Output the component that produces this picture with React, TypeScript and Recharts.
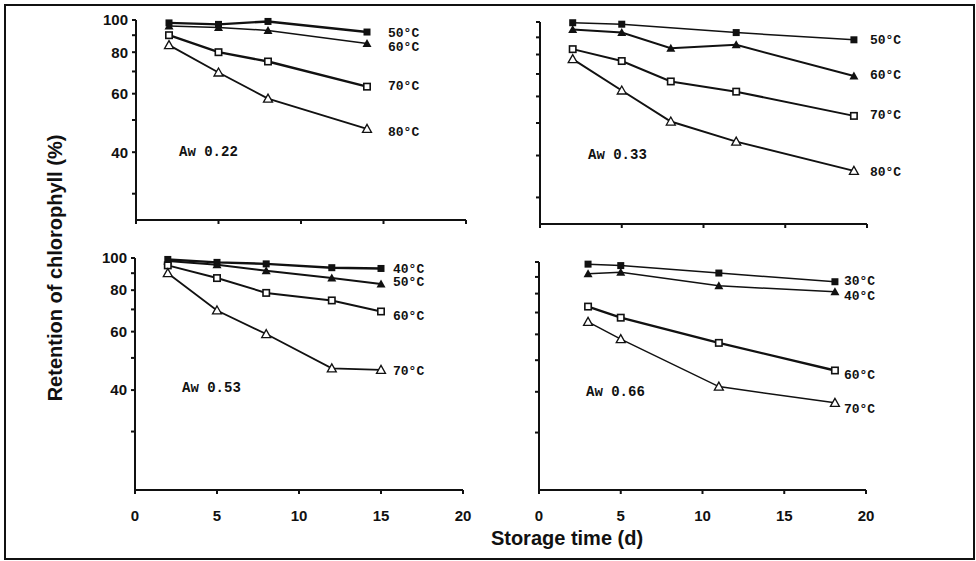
import { LineChart, Line, XAxis, YAxis } from "recharts";

const W = 976;
const H = 561;
const FONT = "'Liberation Sans', Arial, sans-serif";
const MONO = "'Liberation Mono', 'DejaVu Sans Mono', monospace";

// shared axis ticks
const xTicks = [0, 5, 10, 15, 20];
const yTicks = [30, 40, 50, 60, 70, 80, 90, 100];
const yLabelTicks = [40, 60, 80, 100];

// Aw 0.22
const days022 = [2, 5, 8, 14];
const temps022 = ["50°C", "60°C", "70°C", "80°C"];
const ret022_50 = [98, 97, 99, 92];
const ret022_60 = [96, 95, 93, 85];
const ret022_70 = [90, 80, 75, 63];
const ret022_80 = [84, 69.5, 58, 47];

// Aw 0.33
const days033 = [2, 5, 8, 12, 19.2];
const temps033 = ["50°C", "60°C", "70°C", "80°C"];
const ret033_50 = [99.5, 98.5, null, 93, 88.5];
const ret033_60 = [95, 93, 83.5, 85.5, 69];
const ret033_70 = [83, 76.5, 66.5, 62, 52.5];
const ret033_80 = [77.5, 62.5, 50.5, 44, 36];

// Aw 0.53
const days053 = [2, 5, 8, 12, 15];
const temps053 = ["40°C", "50°C", "60°C", "70°C"];
const ret053_40 = [99, 97, 96, 93.5, 93];
const ret053_50 = [98, 95.5, 91.5, 87, 83.5];
const ret053_60 = [95, 87, 78.5, 74.5, 69];
const ret053_70 = [90, 69.5, 59, 46.5, 46];

// Aw 0.66
const days066 = [3, 5, 11, 18.1];
const temps066 = ["30°C", "40°C", "60°C", "70°C"];
const ret066_30 = [98.5, 97.5, 92.5, 87];
const ret066_40 = [92, 93, 84.5, 81];
const ret066_60 = [73, 67.5, 56.5, 46.5];
const ret066_70 = [65.5, 58, 41.5, 37];

const markers = ["fsq", "ftri", "osq", "otri"];

type Panel = {
  aw: string;
  days: number[];
  temps: string[];
  values: (number | null)[][];
  yMin: number;
  box: { x0: number; x1: number; y0: number; y1: number };
  showY: boolean;
  showX: boolean;
  labelDx: number;
  labelDy: number[];
  awAt: [number, number];
  widths: number[];
};

const panels: Panel[] = [
  {
    aw: "Aw 0.22",
    days: days022,
    temps: temps022,
    values: [ret022_50, ret022_60, ret022_70, ret022_80],
    yMin: 25,
    box: { x0: 136, x1: 466, y0: 20, y1: 220 },
    showY: true,
    showX: false,
    labelDx: 21,
    labelDy: [1, 4, 0, 4],
    awAt: [179, 152],
    widths: [2.4, 1.5, 2.4, 1.8],
  },
  {
    aw: "Aw 0.33",
    days: days033,
    temps: temps033,
    values: [ret033_50, ret033_60, ret033_70, ret033_80],
    yMin: 25,
    box: { x0: 540, x1: 867, y0: 22, y1: 224 },
    showY: false,
    showX: false,
    labelDx: 16,
    labelDy: [1, -1, 0, 2],
    awAt: [588, 155],
    widths: [1.5, 2, 2, 2],
  },
  {
    aw: "Aw 0.53",
    days: days053,
    temps: temps053,
    values: [ret053_40, ret053_50, ret053_60, ret053_70],
    yMin: 20,
    box: { x0: 135, x1: 463, y0: 258, y1: 490 },
    showY: true,
    showX: true,
    labelDx: 12,
    labelDy: [1, -1, 5, 2],
    awAt: [182, 388],
    widths: [2.4, 2, 2, 1.8],
  },
  {
    aw: "Aw 0.66",
    days: days066,
    temps: temps066,
    values: [ret066_30, ret066_40, ret066_60, ret066_70],
    yMin: 20,
    box: { x0: 539, x1: 866, y0: 262, y1: 490 },
    showY: false,
    showX: true,
    labelDx: 9,
    labelDy: [0, 5, 5, 7],
    awAt: [586, 392],
    widths: [1.5, 1.5, 2.4, 1.5],
  },
];

function Marker({ cx, cy, kind }: { cx: number; cy: number; kind: string }) {
  if (kind === "fsq") return <rect x={cx - 3.5} y={cy - 3.5} width={7} height={7} fill="#111" />;
  if (kind === "osq")
    return <rect x={cx - 3.2} y={cy - 3.2} width={6.4} height={6.4} fill="#fff" stroke="#111" strokeWidth={1.6} />;
  const pts = `${cx},${cy - 4.5} ${cx + 4.5},${cy + 3.5} ${cx - 4.5},${cy + 3.5}`;
  if (kind === "ftri") return <polygon points={pts} fill="#111" />;
  return <polygon points={pts} fill="#fff" stroke="#111" strokeWidth={1.3} />;
}

function PanelChart({ p }: { p: Panel }) {
  const yw = 40;
  const xh = 40;
  const rows = p.days.map((d, i) => {
    const r: Record<string, number | null> = { day: d };
    p.values.forEach((s, k) => (r[`s${k}`] = s[i]));
    return r;
  });
  const margin = { top: p.box.y0, left: p.box.x0 - yw, right: W - p.box.x1, bottom: H - p.box.y1 - xh };
  const tickStyle = { fill: "#111", fontSize: 15, fontWeight: 700, fontFamily: FONT };

  return (
    <div style={{ position: "absolute", left: 0, top: 0 }}>
      <LineChart width={W} height={H} data={rows} margin={margin}>
        <XAxis
          dataKey="day"
          type="number"
          domain={[0, 20]}
          ticks={xTicks}
          height={xh}
          stroke="#111"
          strokeWidth={2}
          tickSize={4}
          tickMargin={16}
          tick={tickStyle}
          tickFormatter={(v) => (p.showX ? String(v) : "")}
        />
        <YAxis
          scale="log"
          domain={[p.yMin, 100]}
          ticks={yTicks}
          width={yw}
          stroke="#111"
          strokeWidth={2}
          tickSize={4}
          tickMargin={4}
          tick={tickStyle}
          tickFormatter={(v) => (p.showY && yLabelTicks.includes(v) ? String(v) : "")}
        />
        {p.values.map((s, k) => {
          let last = 0;
          s.forEach((v, i) => {
            if (v != null) last = i;
          });
          return (
            <Line
              key={k}
              dataKey={`s${k}`}
              stroke="#111"
              strokeWidth={p.widths[k]}
              connectNulls
              isAnimationActive={false}
              activeDot={false}
              dot={(d: any) => {
                if (d.cy == null || d.value == null) return <g key={`d${k}-${d.index}`} />;
                return (
                  <g key={`d${k}-${d.index}`}>
                    <Marker cx={d.cx} cy={d.cy} kind={markers[k]} />
                    {d.index === last && (
                      <text
                        x={d.cx + p.labelDx}
                        y={d.cy + p.labelDy[k]}
                        dominantBaseline="central"
                        fontFamily={MONO}
                        fontWeight={700}
                        fontSize={13}
                        fill="#111"
                      >
                        {p.temps[k]}
                      </text>
                    )}
                  </g>
                );
              }}
            />
          );
        })}
      </LineChart>
    </div>
  );
}

export default function App() {
  return (
    <div style={{ position: "absolute", left: 0, top: 0, width: W, height: H, background: "#fff" }}>
      {panels.map((p) => (
        <PanelChart key={p.aw} p={p} />
      ))}
      <svg width={W} height={H} style={{ position: "absolute", left: 0, top: 0, pointerEvents: "none" }}>
        <rect x={5} y={5} width={969} height={554} fill="none" stroke="#111" strokeWidth={2} />
        <text
          x={55}
          y={268}
          transform="rotate(-90 55 268)"
          textAnchor="middle"
          dominantBaseline="central"
          fontFamily={FONT}
          fontWeight={700}
          fontSize={20}
          fill="#111"
        >
          Retention of chlorophyll (%)
        </text>
        <text
          x={567}
          y={538}
          textAnchor="middle"
          dominantBaseline="central"
          fontFamily={FONT}
          fontWeight={700}
          fontSize={20}
          fill="#111"
        >
          Storage time (d)
        </text>
        {panels.map((p) => (
          <text
            key={p.aw}
            x={p.awAt[0]}
            y={p.awAt[1]}
            dominantBaseline="central"
            fontFamily={MONO}
            fontWeight={700}
            fontSize={14}
            fill="#111"
          >
            {p.aw}
          </text>
        ))}
      </svg>
    </div>
  );
}
